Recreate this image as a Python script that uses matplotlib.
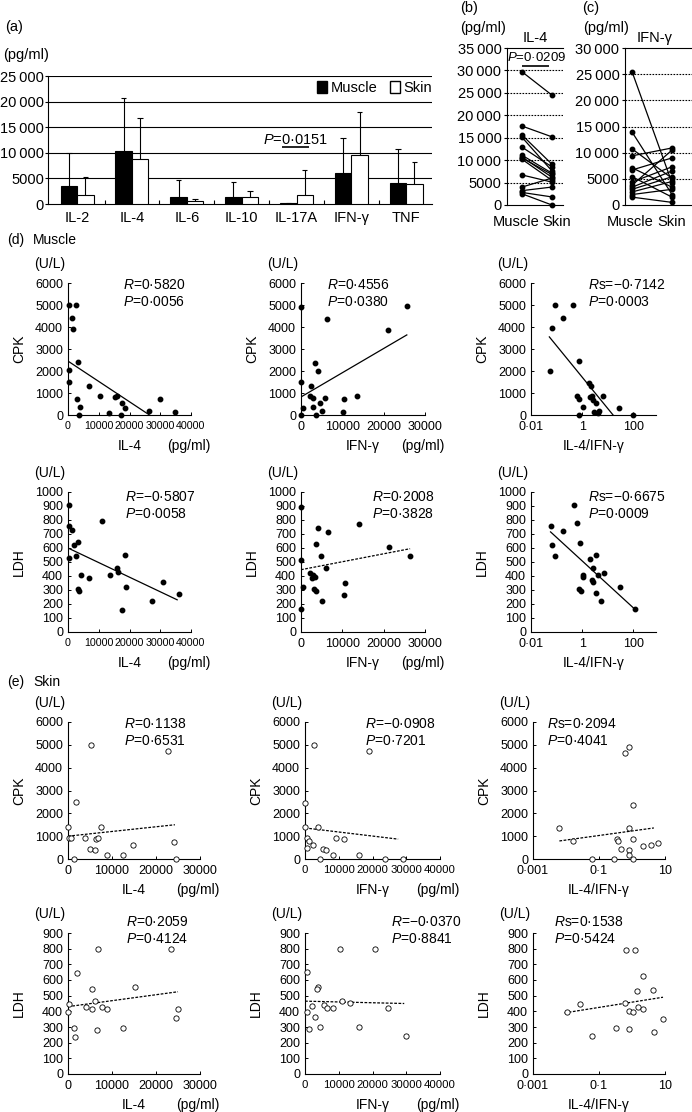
import matplotlib
matplotlib.use("Agg")
import matplotlib.pyplot as plt
import numpy as np
from matplotlib.patches import Patch

plt.rcParams["font.family"] = ["Liberation Sans", "DejaVu Sans"]
plt.rcParams["mathtext.fontset"] = "custom"
plt.rcParams["mathtext.rm"] = "Liberation Sans"
plt.rcParams["mathtext.it"] = "Liberation Sans:italic"

W, H = 692, 1112

# (a) mean cytokine levels with upper SD
cytokines = ["IL-2", "IL-4", "IL-6", "IL-10", "IL-17A", "IFN-γ", "TNF"]
muscle_mean = [3500, 10400, 1400, 1400, 100, 6100, 4100]
muscle_sd = [6500, 10300, 3300, 2900, 150, 6800, 6600]
skin_mean = [1800, 8800, 500, 1300, 1800, 9600, 4000]
skin_sd = [3500, 8000, 400, 1300, 4800, 8400, 4200]

# (b) paired IL-4, (c) paired IFN-γ
il4_muscle = [29700, 17600, 15600, 15100, 12900, 11100, 10700, 10200, 10500, 6700, 4000, 3200, 2800, 2500]
il4_skin = [24500, 15200, 9100, 7600, 8500, 7100, 6200, 5500, 6800, 5100, 6000, 4000, 1800, 0]
ifn_muscle = [25400, 13900, 10700, 9400, 7100, 6700, 5400, 4400, 3800, 3400, 3000, 2500, 2000, 1500]
ifn_skin = [4200, 2000, 5100, 10900, 3400, 9000, 1500, 7300, 10500, 6500, 5400, 4500, 3000, 500]

# (d) muscle correlations
d_il4_cpk_x = [300, 2600, 1300, 1600, 3200, 300, 300, 6800, 2900, 3900, 3500, 10300, 13200, 15200, 15800, 17700, 18400, 17100, 26500, 30000, 34800]
d_il4_cpk_y = [5000, 5000, 4400, 3900, 2400, 2050, 1500, 1300, 730, 370, 0, 860, 100, 820, 860, 550, 300, 0, 200, 730, 120]
d_ifn_cpk_x = [0, 6300, 25600, 21000, 3400, 4100, 0, 2400, 2200, 3000, 4600, 5900, 5100, 3000, 400, 0, 3600, 10500, 10200, 13600]
d_ifn_cpk_y = [4900, 4350, 4950, 3850, 2350, 2000, 1500, 1300, 860, 770, 550, 770, 180, 360, 320, 0, 0, 730, 130, 860]
d_rat_cpk_x = [0.083, 0.44, 0.17, 0.069, 0.057, 0.76, 1.9, 2.3, 0.63, 0.76, 1.1, 0.76, 2.1, 2.75, 3.3, 2.5, 3.0, 4.0, 4.4, 6.3, 27, 100]
d_rat_cpk_y = [5000, 5000, 4400, 3950, 2000, 2450, 1450, 1300, 860, 730, 360, 0, 820, 680, 550, 860, 140, 90, 180, 860, 320, 0]
d_il4_ldh_x = [300, 300, 1300, 3200, 1900, 300, 2600, 4200, 6800, 3200, 3500, 11000, 13600, 15800, 16100, 18400, 19000, 31000, 36100, 17700, 27400]
d_il4_ldh_y = [905, 760, 730, 640, 620, 530, 545, 410, 385, 310, 290, 790, 410, 460, 430, 550, 320, 360, 270, 160, 220]
d_ifn_ldh_x = [0, 0, 4100, 6600, 3600, 14100, 21400, 26300, 4800, 6100, 2200, 2900, 2700, 3400, 500, 3200, 3600, 10700, 10400, 0, 5100]
d_ifn_ldh_y = [890, 515, 740, 715, 630, 770, 610, 540, 545, 455, 420, 405, 385, 395, 320, 305, 290, 350, 265, 165, 220]
d_rat_ldh_x = [0.058, 0.069, 0.083, 0.17, 0.48, 0.63, 0.83, 1.1, 1.1, 0.76, 0.9, 2.1, 3.6, 2.75, 4.0, 6.9, 2.5, 2.75, 3.3, 30, 5.2, 110]
d_rat_ldh_y = [755, 620, 545, 720, 905, 780, 635, 405, 390, 310, 290, 520, 550, 455, 410, 420, 370, 355, 280, 320, 220, 165]

# (e) skin correlations
e_il4_cpk_x = [0, 200, 600, 1300, 1800, 3900, 5000, 6200, 6300, 6800, 7500, 5200, 8900, 12500, 14800, 22700, 24000, 24500]
e_il4_cpk_y = [1400, 920, 900, 0, 2500, 920, 450, 400, 880, 920, 1400, 5000, 180, 180, 620, 4750, 750, 0]
e_ifn_cpk_x = [2700, 19000, 0, 0, 3800, 600, 1200, 2400, 9200, 11600, 600, 5300, 6200, 8300, 4500, 16000, 23700, 29000]
e_ifn_cpk_y = [5000, 4750, 2450, 1400, 1400, 920, 790, 610, 920, 880, 480, 440, 400, 180, 0, 180, 0, 0]
e_rat_cpk_x = [0.0063, 0.016, 0.35, 0.38, 0.63, 0.8, 1.05, 0.8, 1.1, 2.2, 6.0, 0.48, 0.063, 0.29, 1.1, 0.83, 0.83, 3.7]
e_rat_cpk_y = [1360, 790, 880, 790, 4650, 4900, 2370, 1360, 880, 570, 700, 440, 0, 0, 0, 400, 180, 620]
e_il4_ldh_x = [200, 0, 1300, 1600, 2000, 4100, 5400, 5400, 6100, 6600, 6800, 7700, 8900, 12500, 15300, 23400, 24500, 25000]
e_il4_ldh_y = [450, 395, 295, 235, 645, 430, 545, 415, 465, 280, 795, 430, 415, 295, 555, 800, 360, 415]
e_ifn_ldh_x = [600, 600, 1200, 2100, 3000, 3900, 4500, 5600, 6500, 8300, 10400, 11000, 13400, 16000, 20800, 24600, 30000, 3600]
e_ifn_ldh_y = [650, 395, 290, 435, 365, 555, 300, 440, 420, 420, 795, 465, 455, 300, 800, 420, 240, 545]
e_rat_ldh_x = [0.011, 0.026, 0.063, 0.32, 0.68, 1.2, 0.63, 0.83, 0.83, 1.1, 1.4, 1.5, 2.1, 2.2, 4.3, 4.6, 8.7]
e_rat_ldh_y = [395, 450, 240, 295, 790, 790, 455, 290, 400, 395, 530, 425, 625, 415, 535, 270, 350]

# regression lines as drawn (end points)
d_il4_cpk_fit = ([0, 26500], [2450, 0])
d_ifn_cpk_fit = ([0, 25600], [820, 3640])
d_rat_cpk_fit = ([0.052, 16], [3550, 0])
d_il4_ldh_fit = ([0, 35500], [600, 230])
d_ifn_ldh_fit = ([0, 26400], [445, 595])
d_rat_ldh_fit = ([0.058, 110], [715, 165])
e_il4_cpk_fit = ([0, 24300], [1000, 1500])
e_ifn_cpk_fit = ([0, 27600], [1360, 870])
e_rat_cpk_fit = ([0.0063, 4.6], [790, 1360])
e_il4_ldh_fit = ([0, 25000], [430, 525])
e_ifn_ldh_fit = ([0, 29400], [465, 450])
e_rat_ldh_fit = ([0.009, 8.7], [390, 490])

fig = plt.figure(figsize=(W / 100, H / 100), dpi=100)


def px_box(x0, y0, x1, y1):
    return [x0 / W, 1 - y1 / H, (x1 - x0) / W, (y1 - y0) / H]


def label(px, py, s, **kw):
    kw.setdefault("va", "center")
    fig.text(px / W, 1 - py / H, s, **kw)


def thin(v):
    s = f"{v:d}"
    return s if v < 10000 else s[:-3] + "\u2009" + s[-3:]


# ---------- (a) ----------
ax = fig.add_axes(px_box(48, 76, 432, 204))
pos = np.arange(len(cytokines))
bw = 0.3
ax.set_xlim(-0.53, 6.47)
ax.set_ylim(0, 25000)
for v in range(5000, 25001, 5000):
    ax.axhline(v, color="black", lw=0.8, zorder=1)
ax.bar(pos - bw / 2, muscle_mean, bw, color="black", edgecolor="black", lw=0.8, zorder=3)
ax.bar(pos + bw / 2, skin_mean, bw, color="white", edgecolor="black", lw=0.8, zorder=3)
for xs, m, s in ((pos - bw / 2, muscle_mean, muscle_sd), (pos + bw / 2, skin_mean, skin_sd)):
    top = np.add(m, s)
    ax.vlines(xs, m, top, color="black", lw=0.8, zorder=2)
    ax.hlines(top, xs - 0.05, xs + 0.05, color="black", lw=0.8, zorder=2)
ax.text(3.98, 12500, "$P$=0·0151", ha="center", va="center", fontsize=10.5)
ax.hlines(11100, 3.73, 4.23, color="black", lw=1.2)
for sp in ("top", "right"):
    ax.spines[sp].set_visible(False)
ax.set_yticks(range(0, 25001, 5000), [thin(v) for v in range(0, 25001, 5000)])
ax.set_xticks(pos, cytokines)
ax.set_xticks(pos[:-1] + 0.5, minor=True)
ax.tick_params(axis="x", which="major", length=0, labelsize=10.5, pad=5)
ax.tick_params(axis="x", which="minor", direction="in", length=3, width=0.8)
ax.tick_params(axis="y", length=2, labelsize=10.5, pad=1)
ax.legend(handles=[Patch(facecolor="black", edgecolor="black"),
                   Patch(facecolor="white", edgecolor="black")],
          labels=["Muscle", "Skin"], ncol=2, loc="center right",
          bbox_to_anchor=(1.0, 0.906), frameon=False, fontsize=10.5,
          handlelength=0.7, handleheight=0.8, handletextpad=0.2,
          columnspacing=0.9, borderaxespad=0, borderpad=0)
label(5, 27, "(a)", fontsize=10.5)
label(3, 55, "(pg/ml)", fontsize=10.5)


# ---------- (b), (c) ----------
def paired(box, xlim, ymax, mus, ski, label_x):
    a = fig.add_axes(px_box(*box))
    a.set_xlim(*xlim)
    a.set_ylim(0, ymax)
    for v in range(5000, ymax, 5000):
        a.axhline(v, color="black", lw=0.8, ls=(0, (1.5, 1.2)), zorder=1)
    for m, s in zip(mus, ski):
        a.plot([0, 1], [m, s], "-o", color="black", lw=0.9, ms=3.2, clip_on=False, zorder=3)
    a.spines["right"].set_visible(False)
    a.set_yticks(range(0, ymax + 1, 5000), [thin(v) for v in range(0, ymax + 1, 5000)])
    a.set_xticks(label_x, ["Muscle", "Skin"])
    a.tick_params(axis="x", length=0, labelsize=10.5, pad=7.5)
    a.tick_params(axis="y", length=2, labelsize=10.5, pad=2)
    return a


axb = paired((507, 48, 563, 205), (-0.5, 1.37), 35000, il4_muscle, il4_skin, [-0.2, 1.15])
axb.text(0.5, 32800, "$P$=0·0209", ha="center", va="center", fontsize=9.5)
axb.hlines(31000, 0.0, 0.9, color="black", lw=1.2)
label(460, 8, "(b)", fontsize=10.5)
label(460, 28, "(pg/ml)", fontsize=10.5)
label(535, 38, "IL-4", fontsize=10.5, ha="center")

axc = paired((625, 48, 692, 205), (-0.18, 1.5), 30000, ifn_muscle, ifn_skin, [-0.05, 1.0])
label(582, 8, "(c)", fontsize=10.5)
label(583, 28, "(pg/ml)", fontsize=10.5)
label(655, 38, "IFN-γ", fontsize=10.5, ha="center")


# ---------- (d), (e) ----------
def corr(xpx, ypx, x, y, fit, xlim, xticks, xlabels, ymax, ystep, filled, dashed,
         stats, spx, ylab, xlab, unit, logx=False, xsize=9):
    a = fig.add_axes(px_box(xpx[0], ypx[0], xpx[1], ypx[1]))
    if logx:
        a.set_xscale("log")
    a.set_xlim(*xlim)
    a.set_ylim(0, ymax)
    if filled:
        a.plot(x, y, "o", ms=3.2, color="black", clip_on=False, zorder=3)
    else:
        a.plot(x, y, "o", ms=3.8, mfc="white", mec="black", mew=0.6, clip_on=False, zorder=3)
    a.plot(fit[0], fit[1], color="black", lw=0.9,
           ls=(0, (2.2, 1.2)) if dashed else "-", zorder=2)
    for sp in ("top", "right"):
        a.spines[sp].set_visible(False)
    a.set_xticks(xticks, xlabels)
    a.minorticks_off()
    a.set_yticks(range(0, ymax + 1, ystep))
    a.tick_params(direction="in", length=2.5, width=0.7, labelsize=9)
    a.tick_params(axis="x", pad=4.5, labelsize=xsize)
    a.tick_params(axis="y", pad=3.5)
    label(spx[0], spx[1], stats[0], fontsize=10)
    label(spx[0], spx[1] + 17, stats[1], fontsize=10)
    label(xpx[0] - 18, ypx[0] - 19, "(U/L)", fontsize=10, ha="center")
    label(xpx[0] - 49, (ypx[0] + ypx[1]) / 2, ylab, fontsize=10, ha="center", rotation=90)
    label((xpx[0] + xpx[1]) / 2, ypx[1] + 31, xlab, fontsize=10, ha="center")
    if unit:
        label(xpx[1] - 2, ypx[1] + 31, "(pg/ml)", fontsize=10, ha="center")
    return a


lin4 = ([0, 10000, 20000, 30000, 40000], ["0", "10000", "20000", "30000", "40000"])
lin3 = ([0, 10000, 20000, 30000], ["0", "10000", "20000", "30000"])
logd = ([0.01, 1, 100], ["0·01", "1", "100"])
loge = ([0.001, 0.1, 10], ["0·001", "0·1", "10"])

label(7, 240, "(d)", fontsize=10)
label(33, 240, "Muscle", fontsize=10)
label(7, 682, "(e)", fontsize=10)
label(33, 682, "Skin", fontsize=10)

d1 = (283, 415)
d2 = (492, 632)
e1 = (722, 859)
e2 = (933, 1074)
dc = [(68, 191), (301, 425), (531, 656)]
ec = [(68, 200), (305, 440), (533, 665)]

corr(dc[0], d1, d_il4_cpk_x, d_il4_cpk_y, d_il4_cpk_fit, (0, 40000), *lin4, 6000, 1000, True, False,
     ("$R$=0·5820", "$P$=0·0056"), (123, 285), "CPK", "IL-4", True, xsize=7.7)
corr(dc[1], d1, d_ifn_cpk_x, d_ifn_cpk_y, d_ifn_cpk_fit, (0, 30000), *lin3, 6000, 1000, True, False,
     ("$R$=0·4556", "$P$=0·0380"), (327, 285), "CPK", "IFN-γ", True)
corr(dc[2], d1, d_rat_cpk_x, d_rat_cpk_y, d_rat_cpk_fit, (0.01, 760), *logd, 6000, 1000, True, False,
     ("$R$s=−0·7142", "$P$=0·0003"), (588, 285), "CPK", "IL-4/IFN-γ", False, logx=True)
corr(dc[0], d2, d_il4_ldh_x, d_il4_ldh_y, d_il4_ldh_fit, (0, 40000), *lin4, 1000, 100, True, False,
     ("$R$=−0·5807", "$P$=0·0058"), (125, 497), "LDH", "IL-4", True, xsize=7.7)
corr(dc[1], d2, d_ifn_ldh_x, d_ifn_ldh_y, d_ifn_ldh_fit, (0, 30000), *lin3, 1000, 100, True, True,
     ("$R$=0·2008", "$P$=0·3828"), (372, 497), "LDH", "IFN-γ", True)
corr(dc[2], d2, d_rat_ldh_x, d_rat_ldh_y, d_rat_ldh_fit, (0.01, 760), *logd, 1000, 100, True, False,
     ("$R$s=−0·6675", "$P$=0·0009"), (588, 497), "LDH", "IL-4/IFN-γ", False, logx=True)

corr(ec[0], e1, e_il4_cpk_x, e_il4_cpk_y, e_il4_cpk_fit, (0, 30000), *lin3, 6000, 1000, False, True,
     ("$R$=0·1138", "$P$=0·6531"), (124, 724), "CPK", "IL-4", True)
corr(ec[1], e1, e_ifn_cpk_x, e_ifn_cpk_y, e_ifn_cpk_fit, (0, 40000), *lin4, 6000, 1000, False, True,
     ("$R$=−0·0908", "$P$=0·7201"), (365, 724), "CPK", "IFN-γ", True, xsize=8.2)
corr(ec[2], e1, e_rat_cpk_x, e_rat_cpk_y, e_rat_cpk_fit, (0.001, 10), *loge, 6000, 1000, False, True,
     ("$R$s=0·2094", "$P$=0·4041"), (547, 724), "CPK", "IL-4/IFN-γ", False, logx=True)
corr(ec[0], e2, e_il4_ldh_x, e_il4_ldh_y, e_il4_ldh_fit, (0, 30000), *lin3, 900, 100, False, True,
     ("$R$=0·2059", "$P$=0·4124"), (126, 922), "LDH", "IL-4", True)
corr(ec[1], e2, e_ifn_ldh_x, e_ifn_ldh_y, e_ifn_ldh_fit, (0, 40000), *lin4, 900, 100, False, True,
     ("$R$=−0·0370", "$P$=0·8841"), (391, 922), "LDH", "IFN-γ", True, xsize=8.2)
corr(ec[2], e2, e_rat_ldh_x, e_rat_ldh_y, e_rat_ldh_fit, (0.001, 10), *loge, 900, 100, False, True,
     ("$R$s=0·1538", "$P$=0·5424"), (554, 922), "LDH", "IL-4/IFN-γ", False, logx=True)

fig.savefig("out.png", dpi=100)
